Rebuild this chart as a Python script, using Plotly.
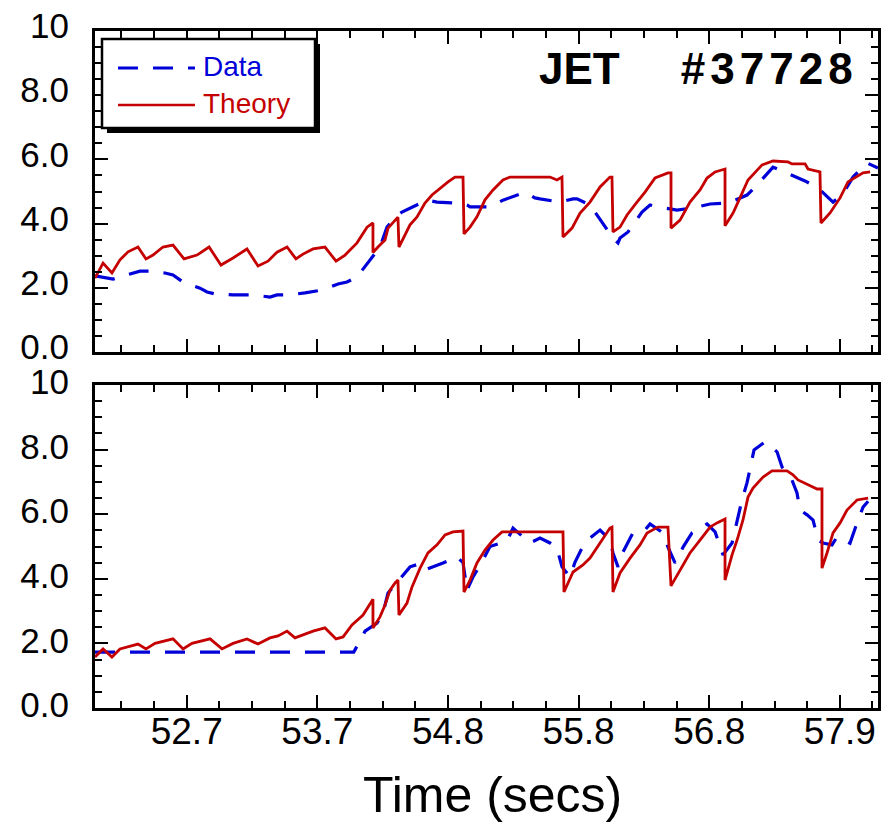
import plotly.graph_objects as go

# ---------------- data ----------------
top_theory_t = [51.94, 52.004, 52.075, 52.139, 52.203, 52.282, 52.346, 52.402, 52.481, 52.561,
                52.649, 52.752, 52.848, 52.943, 53.039, 53.150, 53.238, 53.317, 53.389, 53.469,
                53.540, 53.596, 53.676, 53.771, 53.859, 53.931, 54.026, 54.106, 54.153, 54.153,
                54.193, 54.249, 54.273, 54.329, 54.352, 54.360, 54.448, 54.504, 54.567, 54.623,
                54.687, 54.751, 54.806, 54.870, 54.878, 54.926, 54.981, 55.045, 55.109, 55.188,
                55.244, 55.563, 55.618, 55.658, 55.666, 55.738, 55.802, 55.881, 55.961, 56.040,
                56.056, 56.064, 56.120, 56.176, 56.255, 56.319, 56.399, 56.502, 56.526, 56.526,
                56.598, 56.677, 56.757, 56.813, 56.877, 56.956, 56.956, 57.020, 57.075, 57.139,
                57.251, 57.338, 57.458, 57.489, 57.593, 57.617, 57.712, 57.720, 57.792, 57.872,
                57.935, 58.055, 58.111]
top_theory_v = [2.30, 2.77, 2.46, 2.87, 3.12, 3.27, 2.90, 3.02, 3.27, 3.33,
                2.90, 3.02, 3.27, 2.71, 2.93, 3.21, 2.68, 2.83, 3.11, 3.27,
                2.90, 3.05, 3.21, 3.27, 2.83, 3.02, 3.40, 3.89, 4.02, 3.10,
                3.27, 3.49, 3.86, 4.10, 4.20, 3.27, 3.96, 4.21, 4.64, 4.89,
                5.11, 5.30, 5.45, 5.45, 3.68, 3.89, 4.21, 4.74, 5.05, 5.36,
                5.45, 5.45, 5.36, 5.45, 3.58, 3.86, 4.33, 4.67, 5.14, 5.45,
                5.45, 3.74, 3.89, 4.27, 4.67, 4.98, 5.42, 5.58, 5.58, 3.86,
                4.11, 4.67, 5.05, 5.42, 5.61, 5.70, 3.93, 4.33, 4.80, 5.36,
                5.83, 5.95, 5.92, 5.86, 5.86, 5.70, 5.61, 4.02, 4.33, 4.80,
                5.30, 5.58, 5.61]

top_data_t = [51.94, 52.083, 52.219, 52.298, 52.378, 52.497, 52.561, 52.641, 52.776, 52.832,
              52.895, 53.039, 53.198, 53.333, 53.389, 53.477, 53.612, 53.747, 53.875, 53.946,
              54.026, 54.130, 54.209, 54.265, 54.329, 54.384, 54.528, 54.583, 54.663, 54.806,
              54.902, 54.926, 55.085, 55.188, 55.364, 55.443, 55.483, 55.642, 55.746, 55.778,
              55.881, 55.977, 56.064, 56.104, 56.120, 56.184, 56.295, 56.359, 56.422, 56.574,
              56.701, 56.837, 56.980, 57.131, 57.211, 57.338, 57.450, 57.593, 57.697, 57.816,
              57.888, 57.975, 58.087, 58.174]
top_data_v = [2.37, 2.27, 2.43, 2.52, 2.52, 2.46, 2.40, 2.18, 1.99, 1.87,
              1.81, 1.78, 1.78, 1.71, 1.78, 1.78, 1.84, 1.93, 2.12, 2.18,
              2.34, 2.87, 3.27, 3.89, 4.20, 4.36, 4.64, 4.73, 4.67, 4.64,
              4.58, 4.52, 4.52, 4.73, 4.98, 4.80, 4.77, 4.67, 4.77, 4.77,
              4.58, 4.02, 3.55, 3.40, 3.55, 3.74, 4.36, 4.58, 4.52, 4.42,
              4.49, 4.61, 4.64, 4.89, 5.20, 5.76, 5.58, 5.33, 5.11, 4.67,
              4.89, 5.45, 5.89, 5.73]

bot_theory_t = [51.94, 52.004, 52.075, 52.139, 52.282, 52.346, 52.418, 52.561, 52.641, 52.712,
                52.856, 52.951, 53.039, 53.150, 53.238, 53.333, 53.397, 53.469, 53.532, 53.596,
                53.676, 53.771, 53.859, 53.915, 53.986, 54.074, 54.153, 54.153, 54.209, 54.249,
                54.289, 54.329, 54.352, 54.360, 54.424, 54.464, 54.528, 54.591, 54.663, 54.727,
                54.790, 54.870, 54.878, 54.926, 54.981, 55.045, 55.109, 55.181, 55.666, 55.674,
                55.746, 55.825, 55.881, 55.961, 56.040, 56.056, 56.064, 56.120, 56.200, 56.279,
                56.335, 56.422, 56.502, 56.526, 56.598, 56.677, 56.757, 56.837, 56.892, 56.956,
                56.956, 57.012, 57.052, 57.099, 57.139, 57.179, 57.259, 57.330, 57.450, 57.497,
                57.537, 57.617, 57.689, 57.728, 57.728, 57.768, 57.816, 57.872, 57.927, 58.007,
                58.095]
bot_theory_v = [1.58, 1.83, 1.58, 1.83, 1.98, 1.83, 2.00, 2.14, 1.83, 2.00,
                2.14, 1.83, 2.00, 2.14, 1.98, 2.17, 2.23, 2.38, 2.17, 2.26,
                2.38, 2.48, 2.14, 2.20, 2.57, 2.88, 3.37, 2.48, 2.82, 3.19,
                3.65, 3.87, 3.96, 2.88, 3.25, 3.75, 4.33, 4.80, 5.05, 5.36,
                5.45, 5.48, 3.59, 3.96, 4.49, 4.89, 5.20, 5.45, 5.45, 3.59,
                4.21, 4.43, 4.64, 5.11, 5.57, 5.60, 3.59, 4.18, 4.64, 5.05,
                5.42, 5.60, 5.60, 3.78, 4.27, 4.80, 5.20, 5.60, 5.73, 5.85,
                3.96, 4.74, 5.20, 5.82, 6.53, 6.81, 7.15, 7.34, 7.34, 7.22,
                7.06, 6.90, 6.78, 6.78, 4.33, 4.80, 5.42, 5.73, 6.13, 6.44,
                6.50]

bot_data_t = [51.94, 54.000, 54.010, 54.090, 54.185, 54.233, 54.273, 54.313, 54.448, 54.544,
              54.583, 54.711, 54.822, 54.870, 54.902, 54.950, 55.029, 55.085, 55.220, 55.268,
              55.403, 55.483, 55.563, 55.618, 55.658, 55.722, 55.762, 55.841, 55.961, 56.040,
              56.064, 56.104, 56.144, 56.223, 56.319, 56.359, 56.462, 56.502, 56.558, 56.622,
              56.693, 56.757, 56.813, 56.877, 56.916, 56.940, 57.012, 57.060, 57.091, 57.131,
              57.155, 57.187, 57.219, 57.274, 57.370, 57.410, 57.489, 57.529, 57.553, 57.609,
              57.657, 57.697, 57.736, 57.808, 57.848, 57.951, 58.007, 58.055, 58.095]
bot_data_v = [1.73, 1.73, 1.80, 2.38, 2.63, 2.94, 3.56, 3.75, 4.37, 4.49,
              4.30, 4.49, 4.68, 4.50, 3.65, 4.06, 4.58, 5.00, 5.17, 5.57,
              5.11, 5.26, 5.11, 4.95, 4.37, 4.06, 4.52, 5.14, 5.51, 5.20,
              4.80, 4.37, 4.83, 5.42, 5.51, 5.70, 5.42, 4.98, 4.49, 4.98,
              5.42, 5.57, 5.70, 5.45, 4.98, 4.74, 5.11, 5.91, 6.44, 6.97,
              7.43, 7.99, 8.08, 8.24, 7.93, 7.46, 7.06, 6.66, 6.13, 5.98,
              5.82, 5.20, 5.11, 5.05, 5.30, 5.10, 5.73, 6.22, 6.40]

x_tickvals = [52.67, 53.71, 54.75, 55.79, 56.83, 57.87]
x_ticktext = ["52.7", "53.7", "54.8", "55.8", "56.8", "57.9"]
x_minor = [51.89, 52.15, 52.41, 52.93, 53.19, 53.45, 53.97, 54.23, 54.49, 55.01, 55.27, 55.53,
           56.05, 56.31, 56.57, 57.09, 57.35, 57.61, 58.13]
y_tickvals = [0, 2, 4, 6, 8, 10]
y_ticktext = ["0.0", "2.0", "4.0", "6.0", "8.0", "10"]
y_minor = [0.5, 1, 1.5, 2.5, 3, 3.5, 4.5, 5, 5.5, 6.5, 7, 7.5, 8.5, 9, 9.5]

X_RANGE = [51.94, 58.174]
BLUE = "#0000D8"
RED = "#C40000"
FONT = "Liberation Sans, Arial, Helvetica, sans-serif"

# ---------------- figure ----------------
fig = go.Figure()
fig.add_trace(go.Scatter(x=top_data_t, y=top_data_v, mode="lines", name="Data",
                         line=dict(color=BLUE, width=3.2, dash="20px,15px"),
                         xaxis="x", yaxis="y", showlegend=False))
fig.add_trace(go.Scatter(x=top_theory_t, y=top_theory_v, mode="lines", name="Theory",
                         line=dict(color=RED, width=2.8),
                         xaxis="x", yaxis="y", showlegend=False))
fig.add_trace(go.Scatter(x=bot_data_t, y=bot_data_v, mode="lines", name="Data",
                         line=dict(color=BLUE, width=3.2, dash="20px,15px"),
                         xaxis="x2", yaxis="y2", showlegend=False))
fig.add_trace(go.Scatter(x=bot_theory_t, y=bot_theory_v, mode="lines", name="Theory",
                         line=dict(color=RED, width=2.8),
                         xaxis="x2", yaxis="y2", showlegend=False))

W, H = 892, 822
ML, MR, MT, MB = 95, 14, 31, 114
PW, PH = W - ML - MR, H - MT - MB


def px(x):
    return (x - ML) / PW


def py(y):
    return (H - MB - y) / PH


common_x = dict(range=X_RANGE, showline=True, linewidth=3, linecolor="black", mirror="ticks",
                ticks="inside", ticklen=13, tickwidth=2, tickcolor="black",
                tickmode="array", tickvals=x_tickvals, ticktext=x_ticktext,
                showgrid=False, zeroline=False,
                minor=dict(ticks="inside", ticklen=7, tickwidth=2, tickcolor="black",
                           tickmode="array", tickvals=x_minor, showgrid=False))
common_y = dict(range=[0, 10], showline=True, linewidth=3, linecolor="black", mirror="ticks",
                ticks="inside", ticklen=13, tickwidth=2, tickcolor="black",
                tickmode="array", tickvals=y_tickvals, ticktext=y_ticktext,
                showgrid=False, zeroline=False, ticklabelstandoff=16,
                tickfont=dict(family=FONT, size=35, color="black"),
                minor=dict(ticks="inside", ticklen=7, tickwidth=2, tickcolor="black",
                           tickmode="array", tickvals=y_minor, showgrid=False))

top_dom = [py(352), 1.0]
bot_dom = [0.0, py(385)]

fig.update_layout(
    width=W, height=H,
    margin=dict(l=ML, r=MR, t=MT, b=MB, autoexpand=False),
    paper_bgcolor="white", plot_bgcolor="white",
    font=dict(family=FONT, color="black"),
    xaxis=dict(**common_x, domain=[0, 1], anchor="y", showticklabels=False),
    yaxis=dict(**common_y, domain=top_dom, anchor="x", ticklabelshift=-5),
    xaxis2=dict(**common_x, domain=[0, 1], anchor="y2", showticklabels=True,
                tickfont=dict(family=FONT, size=37, color="black"), ticklabelstandoff=-11),
    yaxis2=dict(**common_y, domain=bot_dom, anchor="x2", ticklabelshift=-3),
    showlegend=False,
)

# legend box (drawn manually to reproduce the shadowed frame)
shapes = [
    dict(type="rect", xref="paper", yref="paper", x0=px(107), x1=px(320), y0=py(44), y1=py(133),
         fillcolor="black", line=dict(width=0), layer="above"),
    dict(type="rect", xref="paper", yref="paper", x0=px(102), x1=px(315), y0=py(39), y1=py(128),
         fillcolor="white", line=dict(color="black", width=2.5), layer="above"),
    dict(type="line", xref="paper", yref="paper", x0=px(118), x1=px(195), y0=py(68), y1=py(68),
         line=dict(color=BLUE, width=3, dash="20px,15px"), layer="above"),
    dict(type="line", xref="paper", yref="paper", x0=px(118), x1=px(195), y0=py(105), y1=py(105),
         line=dict(color=RED, width=2.5), layer="above"),
]
fig.update_layout(shapes=shapes)

annotations = [
    dict(text="Data", x=px(201), y=py(67), xref="paper", yref="paper", xanchor="left",
         yanchor="middle", showarrow=False, font=dict(family=FONT, size=28, color=BLUE)),
    dict(text="Theory", x=px(201), y=py(103), xref="paper", yref="paper", xanchor="left",
         yanchor="middle", showarrow=False, font=dict(family=FONT, size=28, color=RED)),
    dict(text="<b>JET\u00a0\u00a0\u00a0\u00a0\u00a0<span style='letter-spacing:5px'>#37728</span></b>",
         x=px(860), y=py(68), xref="paper", yref="paper",
         xanchor="right", yanchor="middle", showarrow=False,
         font=dict(family=FONT, size=44, color="black")),
    dict(text="Time (secs)", x=px(492), y=py(795), xref="paper", yref="paper", xanchor="center",
         yanchor="middle", showarrow=False, font=dict(family=FONT, size=50, color="black")),
]
fig.update_layout(annotations=annotations)

fig.write_html("out.html")
